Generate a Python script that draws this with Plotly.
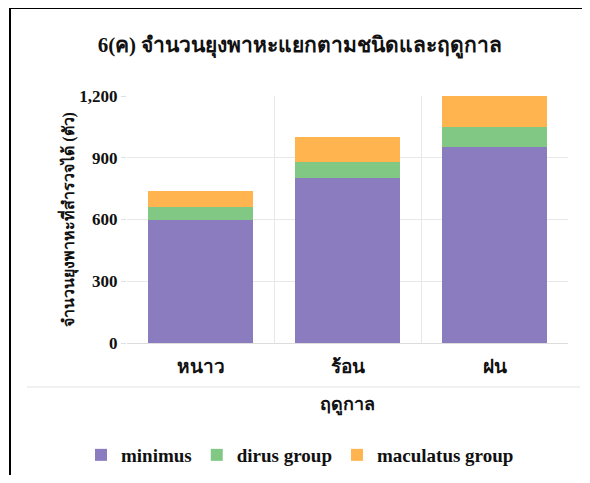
import plotly.graph_objects as go

seasons = ["หนาว", "ร้อน", "ฝน"]
minimus = [600, 800, 950]
dirus_group = [60, 80, 100]
maculatus_group = [80, 120, 150]
y_ticks = [0, 300, 600, 900, 1200]
y_tick_labels = ["0", "300", "600", "900", "1,200"]

FONT = "Liberation Serif, Times New Roman, serif"

fig = go.Figure()
for name, vals, col in [("minimus", minimus, "#8b7cc0"),
                        ("dirus group", dirus_group, "#80c884"),
                        ("maculatus group", maculatus_group, "#ffb44f")]:
    fig.add_trace(go.Bar(x=seasons, y=vals, name="<b>%s</b>" % name,
                         marker=dict(color=col, line=dict(width=0))))

# the page body has an 8px margin; keep the page within the window (no scrollbars)
OFF = 8
W, H = 590 - 2 * OFF, 483 - 2 * OFF
L, T = 127 - OFF, 96 - OFF
R = (W + OFF) - 568
B = (H + OFF) - 343
pw, ph = W - L - R, H - T - B
def px(x):
    return (x - OFF - L) / pw
def py(y):
    return (H - B - (y - OFF)) / ph
def cx(x):
    return (x - OFF) / W
def cy(y):
    return 1 - (y - OFF) / H

fig.update_layout(
    width=W, height=H,
    margin=dict(l=L, r=R, t=T, b=B, autoexpand=False),
    barmode="stack", bargap=0.28,
    paper_bgcolor="white", plot_bgcolor="white",
    font=dict(family=FONT, color="#111", size=16),
    title=dict(text="<b>6(ค) จำนวนยุงพาหะแยกตามชนิดและฤดูกาล</b>", x=cx(300), xanchor="center",
               xref="container", y=cy(45), yref="container", yanchor="middle",
               font=dict(size=21, family=FONT, color="#111")),
    xaxis=dict(tickson="boundaries", showgrid=True, gridcolor="#e8e8e8", gridwidth=1,
               showline=True, linecolor="#dddddd", ticks="", ticklabelstandoff=6,
               tickfont=dict(size=19, family=FONT, color="#111"),
               tickprefix="<b>", ticksuffix="</b>",
               title=dict(text="<b>ฤดูกาล</b>", font=dict(size=18, family=FONT, color="#111"), standoff=21)),
    yaxis=dict(range=[0, 1200], tickvals=y_ticks, ticktext=["<b>%s</b>" % t for t in y_tick_labels],
               showgrid=True, gridcolor="#e8e8e8", zeroline=False, ticks="outside", ticklen=5,
               tickcolor="#e0e0e0", tickfont=dict(size=17, family=FONT, color="#111"),
               title=dict(text="<b>จำนวนยุงพาหะที่สำรวจได้ (ตัว)</b>",
                          font=dict(size=16, family=FONT, color="#111"), standoff=0)),
    legend=dict(orientation="h", x=cx(300), xref="container", xanchor="center",
                y=cy(455), yref="container", yanchor="middle",
                font=dict(size=19, family=FONT, color="#111"), traceorder="normal"),
    shapes=[
        dict(type="line", xref="paper", yref="paper", x0=px(10), x1=px(10), y0=py(7), y1=py(490),
             line=dict(color="black", width=2)),
        dict(type="line", xref="paper", yref="paper", x0=px(9), x1=px(595), y0=py(8), y1=py(8),
             line=dict(color="black", width=2)),
        dict(type="line", xref="paper", yref="paper", x0=px(27), x1=px(580), y0=py(387), y1=py(387),
             line=dict(color="#ececec", width=1.5)),
    ],
)

fig.write_html("out.html")
